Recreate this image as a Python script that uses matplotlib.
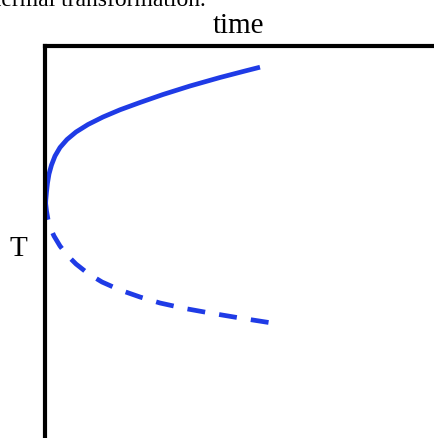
import matplotlib
matplotlib.use("Agg")
import matplotlib.pyplot as plt

# Curve data (time from left axis, T measured downward from top axis)
upper_time = [0.0, 0.3, 1.0, 2.0, 3.5, 6.0, 9.5, 14.5, 21.5, 30.5, 42.5, 57.5, 74.5, 94.5, 117.5, 144.5, 174.5, 199.5, 214.5]
upper_T = [161.5, 154.5, 146.5, 137.5, 128.5, 119.5, 110.5, 102.0, 94.0, 86.5, 79.0, 71.5, 64.3, 57.0, 49.0, 40.5, 32.0, 25.5, 21.7]

lower_time = [0.0, 1.0, 2.5, 4.5, 8.5, 14.5, 21.5, 30.5, 42.5, 56.5, 74.5, 94.5, 114.5, 139.5, 164.5, 194.5, 226.5]
lower_T = [156.5, 165.5, 174.0, 181.5, 190.5, 200.5, 209.5, 218.5, 228.0, 236.5, 244.5, 251.5, 257.5, 263.0, 267.5, 272.5, 277.5]

W, H = 435, 438
fig = plt.figure(figsize=(W / 100, H / 100), dpi=100)
fig.patch.set_facecolor("white")

x0, y0 = 45.5, 45.5
x1, y1 = 520.0, 520.0
ax = fig.add_axes([x0 / W, 1 - y1 / H, (x1 - x0) / W, (y1 - y0) / H])
ax.set_xlim(0, x1 - x0)
ax.set_ylim(y1 - y0, 0)
for s in ["right", "bottom"]:
    ax.spines[s].set_visible(False)
for s in ["left", "top"]:
    ax.spines[s].set_linewidth(3.0)
    ax.spines[s].set_color("black")
ax.set_xticks([])
ax.set_yticks([])

blue = "#1f3be6"
ax.plot(upper_time, upper_T, color=blue, lw=3.4, solid_capstyle="butt",
        solid_joinstyle="round", zorder=1)
ax.plot(lower_time, lower_T, color=blue, lw=3.4, linestyle=(0, (3.8, 3.0)),
        dash_joinstyle="round", zorder=1)

serif = ["Liberation Serif", "DejaVu Serif"]
fig.text(239 / W, 1 - 33 / H, "time", ha="center", va="baseline", fontsize=21, family=serif)
fig.text(18 / W, 1 - 256 / H, "T", ha="center", va="baseline", fontsize=21, family=serif)
fig.text(206 / W, 1 - 6 / H, "thermal transformation.", ha="right", va="baseline", fontsize=17, family=serif)

fig.savefig("out.png", dpi=100, facecolor="white")
